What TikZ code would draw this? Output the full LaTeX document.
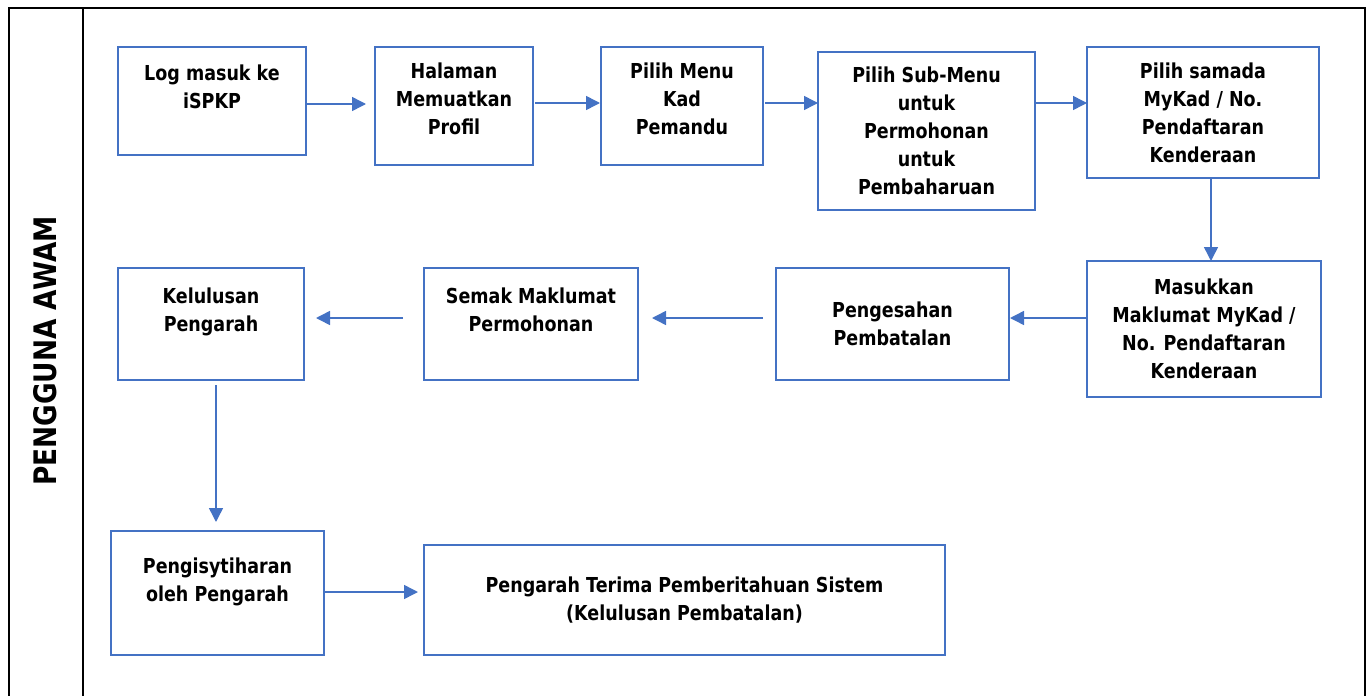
\documentclass[tikz,border=0pt]{standalone}
\usepackage{fontspec}
\setmainfont{DejaVu Sans}[FakeStretch=0.85]
\usetikzlibrary{arrows.meta}
\definecolor{flowblue}{HTML}{4472C4}
\tikzset{
    box/.style={draw=flowblue, line width=0.75pt, inner sep=0pt, outer sep=0pt,
        align=center, font=\bfseries\fontsize{10.3}{14}\selectfont},
    lift/.style={text depth=#1},
    flow/.style={draw=flowblue, line width=0.75pt, -{Triangle[length=7pt,width=7pt]}},
}
\begin{document}
\begin{tikzpicture}[x=0.5pt,y=-0.5pt]
        \useasboundingbox (0,0) rectangle (1372,696);

        % outer frame and role column
        \draw[line width=1pt] (9,696) |- (1365,8) -- (1365,696);
        \draw[line width=1pt] (83,8) -- (83,696);
        \node[rotate=90, font=\bfseries\fontsize{15.5}{18}\selectfont] (role) at (45,351) {PENGGUNA AWAM};

        % first row
        \node[box, lift=14pt, minimum width=94pt, minimum height=54pt] (log) at (212,101) {Log masuk ke\\iSPKP};
        \node[box, lift=7.4pt, minimum width=79pt, minimum height=59pt] (profil) at (454,106) {Halaman\\Memuatkan\\Profil};
        \node[box, lift=7.4pt, minimum width=81pt, minimum height=59pt] (menu) at (682,106) {Pilih Menu\\Kad\\Pemandu};
        \node[box, minimum width=108.5pt, minimum height=79pt] (sub) at (926.5,131) {Pilih Sub-Menu\\untuk\\Permohonan\\untuk\\Pembaharuan};
        \node[box, minimum width=116pt, minimum height=65.5pt] (samada) at (1203,112.5) {Pilih samada\\MyKad / No.\\Pendaftaran\\Kenderaan};

        % second row
        \node[box, minimum width=117pt, minimum height=68pt] (masuk) at (1204,329) {Masukkan\\Maklumat MyKad /\\No. Pendaftaran\\Kenderaan};
        \node[box, minimum width=116.5pt, minimum height=56pt] (sah) at (892.5,324) {Pengesahan\\Pembatalan};
        \node[box, lift=14pt, minimum width=107pt, minimum height=56pt] (semak) at (531,324) {Semak Maklumat\\Permohonan};
        \node[box, lift=14pt, minimum width=93pt, minimum height=56pt] (lulus) at (211,324) {Kelulusan\\Pengarah};

        % third row
        \node[box, lift=13pt, minimum width=106.5pt, minimum height=62pt] (isytihar) at (217.5,593) {Pengisytiharan\\oleh Pengarah};
        \node[box, minimum width=260.5pt, minimum height=55pt] (terima) at (684.5,600) {Pengarah Terima Pemberitahuan Sistem\\(Kelulusan Pembatalan)};

        \draw[flow, shorten >=4.5pt] ([yshift=-1.5pt]log.east) -- ([yshift=-1.5pt]log.east -| profil.west);
        \draw[flow, shorten <=1pt, shorten >=0.5pt] ([yshift=1.5pt]profil.east) -- ([yshift=1.5pt]profil.east -| menu.west);
        \draw[flow, shorten <=1pt] ([yshift=1.5pt]menu.east) -- ([yshift=1.5pt]menu.east -| sub.west);
        \draw[flow] ([yshift=1.5pt]sub.east |- menu.east) -- ([yshift=1.5pt]menu.east -| samada.west);
        \draw[flow] ([xshift=4pt]samada.south) -- ([xshift=4pt]samada.south |- masuk.north);
        \draw[flow, shorten >=0.5pt] ([yshift=3pt]masuk.west |- sah.east) -- ([yshift=3pt]sah.east);
        \draw[flow, shorten <=6.5pt, shorten >=7pt] ([yshift=3pt]sah.west) -- ([yshift=3pt]semak.east);
        \draw[flow, shorten <=10.5pt, shorten >=6pt] ([yshift=3pt]semak.west) -- ([yshift=3pt]lulus.east);
        \draw[flow, shorten <=2.5pt, shorten >=4.5pt] ([xshift=-0.75pt]lulus.south -| isytihar.north) -- ([xshift=-0.75pt]isytihar.north);
        \draw[flow, shorten >=3pt] ([yshift=0.5pt]isytihar.east) -- ([yshift=0.5pt]isytihar.east -| terima.west);
\end{tikzpicture}
\end{document}
